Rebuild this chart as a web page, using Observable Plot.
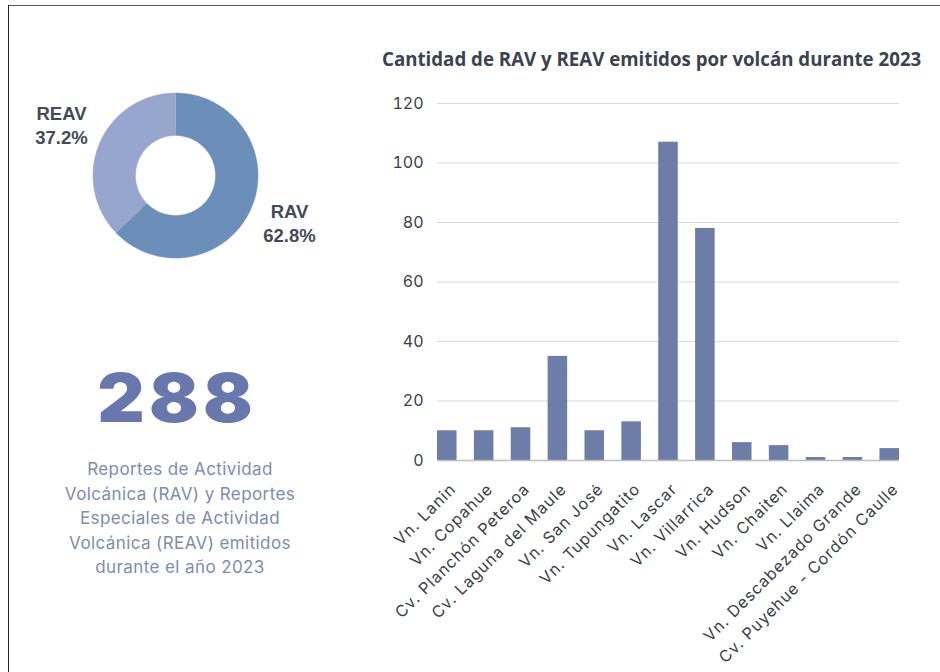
<!DOCTYPE html>
<html>
<head>
<meta charset="utf-8">
<script src="https://cdn.jsdelivr.net/npm/d3@7"></script>
<script src="https://cdn.jsdelivr.net/npm/@observablehq/plot@0.6"></script>
<style>
  html, body { margin: 0; padding: 0; background: #fff; }
  #page { position: relative; width: 940px; height: 672px; overflow: hidden; background: #fff; }
  #frameTop { position: absolute; left: 8px; top: 5px; width: 932px; height: 0; border-top: 1.5px solid #555; }
  #frameLeft { position: absolute; left: 8px; top: 5px; width: 0; height: 667px; border-left: 1.5px solid #222; }
  #donut { position: absolute; left: 20px; top: 80px; }
  #big { position: absolute; left: 40px; width: 280px; top: 357px; text-align: center;
         font-family: Inter, Lato, sans-serif; font-weight: 900; font-size: 68px; line-height: 80px;
         color: #6878ac; letter-spacing: 4px; transform: scaleX(1.08); transform-origin: 175px 0; }
  #sub { position: absolute; left: 30px; width: 300px; top: 457px; text-align: center;
         font-family: Inter, "Open Sans", sans-serif; font-weight: 400; font-size: 17px; line-height: 24.6px;
         color: #7d8caf; letter-spacing: 0.4px; }
  #title { position: absolute; left: 382px; top: 47px; font-family: "Open Sans", sans-serif; font-weight: 700;
           font-size: 18.7px; line-height: 24px; color: #3b4250; white-space: nowrap; }
  #bars { position: absolute; left: 370px; top: 80px; }
  #bars g[aria-label="x-axis tick label"] text { letter-spacing: 1px; }
</style>
</head>
<body>
<div id="page">
  <div id="frameTop"></div>
  <div id="frameLeft"></div>
  <div id="donut"></div>
  <div id="big"></div>
  <div id="sub">Reportes de Actividad<br>Volcánica (RAV) y Reportes<br>Especiales de Actividad<br>Volcánica (REAV) emitidos<br>durante el año 2023</div>
  <div id="title">Cantidad de RAV y REAV emitidos por volcán durante 2023</div>
  <div id="bars"></div>
</div>
<script>
// ---- Data ----
const volcanoes = [
  "Vn. Lanin", "Vn. Copahue", "Cv. Planchón Peteroa", "Cv. Laguna del Maule",
  "Vn. San José", "Vn. Tupungatito", "Vn. Lascar", "Vn. Villarrica",
  "Vn. Hudson", "Vn. Chaiten", "Vn. Llaima", "Vn. Descabezado Grande",
  "Cv. Puyehue - Cordón Caulle"
];
const reportCounts = [10, 10, 11, 35, 10, 13, 107, 78, 6, 5, 1, 1, 4];
const yTicks = [0, 20, 40, 60, 80, 100, 120];

const reportTypes = ["RAV", "REAV"];
const reportShares = [62.8, 37.2];
const reportColors = ["#6c8fb9", "#97a6cd"];
const totalReports = 288;

// ---- Donut ----
const W = 320, H = 200, cx = 155, cy = 95, rOuter = 82.5, rInner = 40;
const pie = d3.pie().sort(null).value(d => d.value)(reportTypes.map((t, i) => ({type: t, value: reportShares[i], color: reportColors[i]})));
const ringPts = [];
for (const s of pie) {
  const n = 120;
  for (let k = 0; k <= n; k++) {
    const a = s.startAngle + (s.endAngle - s.startAngle) * k / n;
    ringPts.push({type: s.data.type, color: s.data.color, x: cx + rOuter * Math.sin(a), y: cy - rOuter * Math.cos(a)});
  }
  for (let k = n; k >= 0; k--) {
    const a = s.startAngle + (s.endAngle - s.startAngle) * k / n;
    ringPts.push({type: s.data.type, color: s.data.color, x: cx + rInner * Math.sin(a), y: cy - rInner * Math.cos(a)});
  }
}
const labelPos = {RAV: {x: 269, y: 132}, REAV: {x: 41, y: 34}};
const donutLabels = [];
reportTypes.forEach((t, i) => {
  donutLabels.push({x: labelPos[t].x, y: labelPos[t].y, text: t});
  donutLabels.push({x: labelPos[t].x, y: labelPos[t].y + 23.5, text: reportShares[i].toFixed(1) + "%"});
});

const donut = Plot.plot({
  width: W, height: H, margin: 0,
  x: {domain: [0, W], range: [0, W], axis: null},
  y: {domain: [0, H], range: [0, H], axis: null},
  style: {background: "transparent", overflow: "visible"},
  marks: [
    Plot.line(ringPts, {x: "x", y: "y", z: "type", fill: "color", stroke: "color", strokeWidth: 0.5, curve: "linear"}),
    Plot.text(donutLabels, {x: "x", y: "y", text: "text", fill: "#454a5b", fontSize: 18.5, fontWeight: "bold",
      fontFamily: "'Liberation Sans', Arial, sans-serif", textAnchor: "middle"})
  ]
});
document.getElementById("donut").appendChild(donut);
document.getElementById("big").textContent = String(totalReports);

// ---- Bars ----
const barData = volcanoes.map((v, i) => ({name: v, value: reportCounts[i]}));
const bars = Plot.plot({
  width: 570, height: 592,
  marginLeft: 67, marginRight: 41, marginTop: 23, marginBottom: 212,
  style: {background: "transparent", overflow: "visible", fontFamily: "Inter, sans-serif", color: "#3a3f4a"},
  x: {domain: volcanoes, paddingInner: 0.47, paddingOuter: 0, round: false, label: null},
  y: {domain: [0, 120], label: null},
  marks: [
    Plot.gridY(yTicks, {stroke: "#d9d9d9", strokeOpacity: 1, strokeWidth: 1.2}),
    Plot.axisY(yTicks, {tickSize: 0, tickPadding: 14, fontSize: 16, fill: "#3a3f4a", label: null}),
    Plot.axisX({tickSize: 0, tickRotate: -45, tickPadding: 16, dx: 6, dy: 10, fontSize: 16, fill: "#3a3f4a", label: null}),
    Plot.barY(barData, {x: "name", y: "value", fill: "#6c7da8"}),
    Plot.ruleY([0], {stroke: "#bdbdbd", strokeWidth: 1.5})
  ]
});
document.getElementById("bars").appendChild(bars);
</script>
</body>
</html>
